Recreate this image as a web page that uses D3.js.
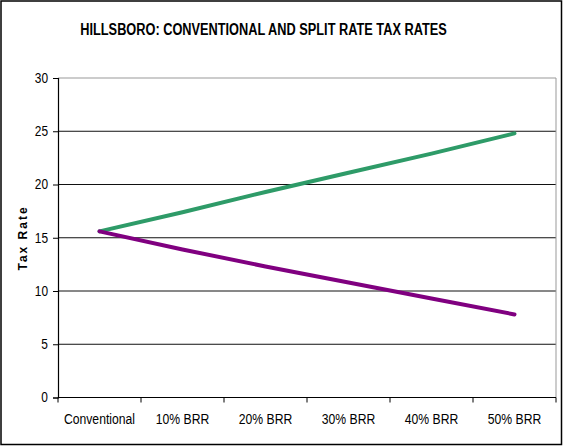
<!DOCTYPE html>
<html>
<head>
<meta charset="utf-8">
<script src="https://cdn.jsdelivr.net/npm/d3@7"></script>
<style>
  html, body { margin: 0; padding: 0; background: #fff; }
  svg { display: block; }
  text { font-family: "Liberation Sans Narrow", "Liberation Sans", Arial, sans-serif; }
</style>
</head>
<body>
<svg id="chart" width="563" height="446"></svg>
<script>
// Tax rate scenarios for Hillsboro
const categories = ["Conventional", "10% BRR", "20% BRR", "30% BRR", "40% BRR", "50% BRR"];
const landRate = [15.6, 17.4, 19.3, 21.1, 22.9, 24.8];
const buildingRate = [15.6, 13.9, 12.3, 10.8, 9.3, 7.8];
const yTicks = [0, 5, 10, 15, 20, 25, 30];

const svg = d3.select("#chart");
const W = 563, H = 446;
const plot = { left: 58, right: 556, top: 78, bottom: 397.5 };

// squeeze text horizontally to a narrow face
function narrow(sel, factor) {
  sel.each(function () {
    const len = this.getComputedTextLength();
    d3.select(this).attr("textLength", len * factor).attr("lengthAdjust", "spacingAndGlyphs");
  });
}

// outer frame
svg.append("rect")
  .attr("x", 1).attr("y", 1).attr("width", W - 2.5).attr("height", H - 2.5)
  .attr("fill", "#fff").attr("stroke", "#000").attr("stroke-width", 1.5);

const x = d3.scaleBand().domain(categories).range([plot.left, plot.right]);
const y = d3.scaleLinear().domain([0, 30]).range([plot.bottom, plot.top]);

// gridlines
svg.append("g")
  .selectAll("line")
  .data(yTicks.filter(d => d > 0 && d < 30))
  .join("line")
  .attr("x1", plot.left).attr("x2", plot.right)
  .attr("y1", d => y(d)).attr("y2", d => y(d))
  .attr("stroke", "#111").attr("stroke-width", 1);

// plot area border (top and right)
svg.append("path")
  .attr("d", `M${plot.left},${y(30)}H${plot.right}V${plot.bottom}`)
  .attr("fill", "none").attr("stroke", "#999").attr("stroke-width", 1);

// y axis
const yAxis = svg.append("g")
  .attr("transform", `translate(${plot.left},0)`)
  .call(d3.axisLeft(y).tickValues(yTicks).tickSize(5).tickPadding(5));
yAxis.select(".domain").attr("stroke", "#000").attr("stroke-width", 1.2);
yAxis.selectAll(".tick line").attr("stroke", "#000");
yAxis.selectAll(".tick text").attr("font-size", 14).attr("fill", "#000")
  .style("font-family", '"Liberation Sans Narrow", "Liberation Sans", Arial, sans-serif');
narrow(yAxis.selectAll(".tick text"), 0.85);

// x axis with ticks between categories
const xAxisG = svg.append("g").attr("transform", `translate(0,${plot.bottom})`);
xAxisG.append("line")
  .attr("x1", plot.left).attr("x2", plot.right)
  .attr("stroke", "#000").attr("stroke-width", 1.2);
const bounds = categories.map(c => x(c)).concat([plot.right]);
xAxisG.selectAll("line.tk")
  .data(bounds)
  .join("line").attr("class", "tk")
  .attr("x1", d => d).attr("x2", d => d)
  .attr("y1", 0).attr("y2", 5)
  .attr("stroke", "#000");
const xLabels = xAxisG.selectAll("text")
  .data(categories)
  .join("text")
  .attr("x", d => x(d) + x.bandwidth() / 2)
  .attr("y", 26)
  .attr("text-anchor", "middle")
  .attr("font-size", 14)
  .attr("fill", "#000")
  .text(d => d);
narrow(xLabels, 0.87);

// y axis title
svg.append("text")
  .attr("transform", `translate(27,${238}) rotate(-90)`)
  .attr("text-anchor", "middle")
  .attr("font-size", 12)
  .attr("font-weight", "bold")
  .attr("letter-spacing", 2)
  .style("font-family", '"Liberation Sans", Arial, sans-serif')
  .text("Tax Rate");

// chart title, condensed horizontally
const title = svg.append("text")
  .attr("text-anchor", "middle")
  .attr("font-size", 17)
  .attr("font-weight", "bold")
  .text("HILLSBORO: CONVENTIONAL AND SPLIT RATE TAX RATES");
const titleLen = title.node().getComputedTextLength();
title.attr("transform", `translate(263.5,34.5) scale(${367 / titleLen},1)`);

// series lines
const line = d3.line()
  .x((d, i) => x(categories[i]) + x.bandwidth() / 2)
  .y(d => y(d));

svg.append("path").datum(landRate)
  .attr("d", line).attr("fill", "none")
  .attr("stroke", "#2e9b68").attr("stroke-width", 4).attr("stroke-linecap", "round");
svg.append("path").datum(buildingRate)
  .attr("d", line).attr("fill", "none")
  .attr("stroke", "#800080").attr("stroke-width", 4).attr("stroke-linecap", "round");
</script>
</body>
</html>
